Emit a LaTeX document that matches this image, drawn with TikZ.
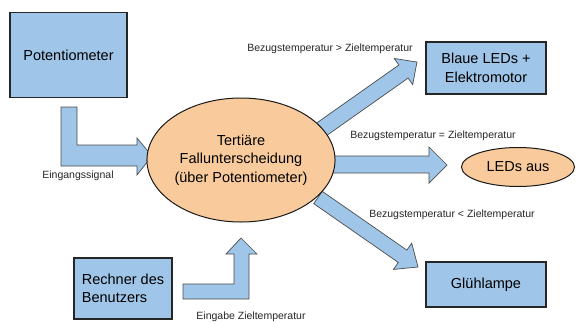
\documentclass[tikz,border=0pt]{standalone}
\usepackage{fontspec}
\setmainfont{Liberation Sans}
\usetikzlibrary{shapes.geometric, positioning}
\definecolor{boxblue}{HTML}{9FC5E8}
\definecolor{ovalorange}{HTML}{F9CB9C}
\tikzstyle{block} = [rectangle, draw=black!85, line width=1.2pt, fill=boxblue, align=center, font=\fontsize{14.5}{18.5}\selectfont]
\tikzstyle{oval} = [ellipse, draw=black!90, line width=1pt, fill=ovalorange, align=center, inner sep=0pt, font=\fontsize{14.5}{18.5}\selectfont]
\tikzstyle{fatarrow} = [draw=black!70, line width=0.7pt, fill=boxblue, line join=miter]
\tikzstyle{note} = [text=black!85, font=\fontsize{10.5}{12}\selectfont]

\begin{document}
\begin{tikzpicture}[x=1pt, y=-1pt]

    \fill [white] (0,0) rectangle (576,322);
    \useasboundingbox (0,0) rectangle (576,322);

    % bent arrows into the case distinction
    \draw [fatarrow] (61,107) -- (77,107) -- (77,145) -- (137,145) -- (137,138) -- (152,156) -- (137,175) -- (137,166) -- (61,166) -- cycle;
    \draw [fatarrow] (183,299) -- (183,284) -- (234,284) -- (234,254) -- (226,254) -- (241,238) -- (257,254) -- (249,254) -- (249,299) -- cycle;

    % outputs
    \begin{scope}[shift={(318.5,131.5)}, rotate=35.2]
        \draw [fatarrow] (0,-8) -- (104,-8) -- (104,-16) -- (120.5,0) -- (104,16) -- (104,8) -- (0,8) -- cycle;
    \end{scope}
    \draw [fatarrow] (327,156) -- (429,156) -- (429,147) -- (447,165) -- (429,183) -- (429,173) -- (327,173) -- cycle;
    \begin{scope}[shift={(318,197.5)}, rotate=-34.8]
        \draw [fatarrow] (0,-7.5) -- (103,-7.5) -- (103,-16) -- (121.8,0) -- (103,16) -- (103,7.5) -- (0,7.5) -- cycle;
    \end{scope}

    \node (poti) [block, minimum width=117pt, minimum height=85pt] at (68.5, 55) {Potentiometer};
    \node (rechner) [block, align=left, minimum width=98pt, minimum height=61pt] at (123, 288.5) {Rechner des\\Benutzers};
    \node (fall) [oval, minimum width=168pt, minimum height=124pt] at (241, 160) {Tertiäre\\Fallunterscheidung\\(über Potentiometer)};
    \node (blau) [block, minimum width=120pt, minimum height=52pt] at (486, 68) {Blaue LEDs +\\Elektromotor};
    \node (aus) [oval, minimum width=113pt, minimum height=39pt] at (518, 167) {LEDs aus};
    \node (gluehlampe) [block, minimum width=120pt, minimum height=45pt] at (486, 284.5) {Glühlampe};

    \node (eingang) [note] at (78, 176) {Eingangssignal};
    \node (eingabe) [note] at (251, 317) {Eingabe Zieltemperatur};
    \node (groesser) [note] at (330, 49) {Bezugstemperatur > Zieltemperatur};
    \node (gleich) [note] at (433, 136) {Bezugstemperatur = Zieltemperatur};
    \node (kleiner) [note] at (452, 215) {Bezugstemperatur < Zieltemperatur};

\end{tikzpicture}
\end{document}
